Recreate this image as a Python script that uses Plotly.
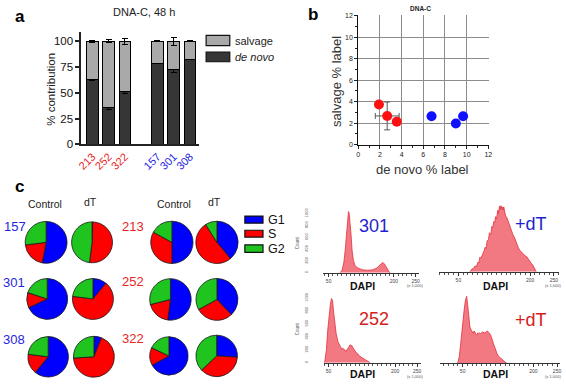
import plotly.graph_objects as go

W, H = 566, 385
FONT = "Liberation Sans, Arial, sans-serif"


def px(x):
    return x / W


def py(y):
    return 1 - y / H


# ---------------- Panel a data ----------------
bar_lines = ["213", "252", "322", "157", "301", "308"]
bar_categories = ["213", "252", "322", " ", "157", "301", "308"]
bar_line_colors = ["#e8261e", "#e8261e", "#e8261e", "#2424e0", "#2424e0", "#2424e0"]
de_novo_pct = [63.1, 35.3, 51.7, 78.9, 72.6, 82.6]
de_novo_err = [1.2, 1.6, 2.5, 0.5, 3.2, 0.5]
salvage_pct = [36.9, 64.7, 48.3, 21.1, 27.4, 17.4]
total_err = [0.7, 1.6, 3.0, 0.5, 3.6, 0.5]
y_ticks_a = [0, 25, 50, 75, 100]

# ---------------- Panel b data ----------------
red_de_novo = [1.91, 2.67, 3.55]
red_salvage = [3.73, 2.67, 2.12]
red_x_err = [0, 1.1, 0]
red_y_err = [0, 1.3, 0]
blue_de_novo = [6.76, 9.0, 9.67]
blue_salvage = [2.64, 1.97, 2.64]
b_ticks = [0, 2, 4, 6, 8, 10, 12]

# ---------------- Panel c data (pies) ----------------
phases = ["G1", "S", "G2"]
phase_colors = ["#0000ff", "#ff0000", "#1fc41f"]
pie_157_control = [53, 20, 27]
pie_157_dT = [0.5, 51.5, 48]
pie_301_control = [68, 12, 20]
pie_301_dT = [11, 66, 23]
pie_308_control = [61, 16, 23]
pie_308_dT = [6, 68, 26]
pie_213_control = [50, 33, 17]
pie_213_dT = [39, 52, 9]
pie_252_control = [52, 19, 29]
pie_252_dT = [38, 29, 33]
pie_322_control = [67, 15, 18]
pie_322_dT = [26, 37, 37]

# ---------------- Histogram data (DAPI x1,000 vs count) ----------------
h301_dapi = [76, 81, 83, 85, 88, 91, 93, 95.6, 97, 99, 101.5, 104, 107, 110.5, 115.7, 122.5, 130,
             139.5, 149, 157, 163, 167, 172, 175, 179, 183, 186.5, 190, 192]
h301_count = [0, 44, 110, 180, 371, 699, 917, 1030, 1010, 890, 644, 371, 207, 126, 87, 66, 49,
              44, 49, 66, 93, 126, 158, 175, 142, 87, 38, 5, 0]

h301dT_dapi = [74, 78, 81, 85, 88, 91, 93, 95, 97, 99, 101, 104, 106, 108, 110, 113, 115, 118, 120, 122,
               124, 126, 128, 130, 132.5, 134, 136, 137.5, 139, 140.5, 142, 143.5, 145, 147, 149, 152,
               154, 157, 159, 161, 164, 167, 170, 172, 175, 178, 181, 183, 186, 189, 192, 194, 197,
               200, 203, 206, 209, 211, 213]
h301dT_count = [0, 40, 50, 90, 85, 150, 140, 225, 210, 260, 275, 330, 380, 360, 475, 500, 600, 580,
                700, 680, 775, 760, 850, 820, 950, 900, 1010, 960, 1020, 975, 1000, 950, 1000, 925,
                860, 825, 780, 725, 690, 625, 575, 535, 470, 425, 380, 335, 320, 300, 270, 250, 240,
                225, 190, 150, 130, 100, 60, 30, 0]

h252_dapi = [41, 45, 48, 51, 54, 56.7, 59, 61, 64, 67, 71, 74, 78, 80, 83, 85, 87, 89, 92, 94, 96,
             98, 101, 103, 105, 107, 110, 113, 117, 120, 125, 129, 134, 139, 144]
h252_count = [0, 200, 500, 750, 900, 990, 950, 800, 600, 450, 325, 275, 230, 210, 220, 200, 195,
              175, 200, 225, 245, 275, 265, 260, 230, 200, 180, 150, 130, 100, 80, 60, 40, 25, 0]

h252dT_dapi = [39.5, 43, 46, 49, 53, 55.6, 58.4, 60.5, 62.6, 65.5, 67, 69, 71, 72.5, 74, 76, 78, 80,
               82, 84, 86, 88.5, 91, 93, 95, 98, 100, 102.3, 104.5, 106.5, 109, 111, 113, 115, 118,
               120, 123, 126, 130, 133, 137, 140, 144]
h252dT_count = [0, 110, 310, 560, 810, 960, 1035, 910, 710, 560, 530, 510, 470, 460, 500, 485, 450,
                435, 470, 460, 470, 460, 480, 485, 470, 470, 490, 500, 480, 470, 440, 410, 360, 310,
                240, 185, 150, 110, 80, 60, 35, 20, 0]

hist_ticks = [50, 200, 250]
hist_count_ticks = [0, 200, 400, 600, 800, 1000]

fig = go.Figure()

# ---------------- Panel a: stacked bars ----------------
fig.add_trace(go.Bar(
    x=bar_lines, y=de_novo_pct, name="de novo", width=0.73,
    marker=dict(color="#363636", line=dict(color="#000000", width=1)),
    error_y=dict(type="data", array=de_novo_err, color="#000000", thickness=1, width=3),
    xaxis="x", yaxis="y", showlegend=False,
))
fig.add_trace(go.Bar(
    x=bar_lines, y=salvage_pct, name="salvage", width=0.73,
    marker=dict(color="#a9a9a9", line=dict(color="#000000", width=1)),
    error_y=dict(type="data", array=total_err, color="#000000", thickness=1, width=3),
    xaxis="x", yaxis="y", showlegend=False,
))

# ---------------- Panel b: scatter ----------------
fig.add_trace(go.Scatter(
    x=red_de_novo, y=red_salvage, mode="markers",
    marker=dict(color="#ff1010", size=10),
    error_x=dict(type="data", array=red_x_err, color="#555555", thickness=1, width=3),
    error_y=dict(type="data", array=red_y_err, color="#555555", thickness=1, width=3),
    xaxis="x2", yaxis="y2", showlegend=False,
))
fig.add_trace(go.Scatter(
    x=blue_de_novo, y=blue_salvage, mode="markers",
    marker=dict(color="#1010ff", size=10),
    xaxis="x2", yaxis="y2", showlegend=False,
))

# ---------------- Panel c: pies ----------------
pies = [
    (pie_157_control, 41.7, 244.7, 21.5),
    (pie_157_dT, 88.3, 244.7, 21.0),
    (pie_301_control, 42.8, 302.8, 21.0),
    (pie_301_dT, 89.2, 302.8, 21.0),
    (pie_308_control, 43.8, 362.2, 20.8),
    (pie_308_dT, 90.2, 362.2, 21.0),
    (pie_213_control, 169.3, 244.7, 21.7),
    (pie_213_dT, 215.0, 244.7, 21.7),
    (pie_252_control, 167.8, 303.3, 21.3),
    (pie_252_dT, 215.0, 303.3, 21.5),
    (pie_322_control, 166.3, 361.3, 19.7),
    (pie_322_dT, 214.7, 361.3, 21.3),
]
for vals, cx, cy, r in pies:
    fig.add_trace(go.Pie(
        labels=phases, values=vals, sort=False, direction="clockwise", rotation=0,
        marker=dict(colors=phase_colors, line=dict(color="#1a1a1a", width=0.8)),
        textinfo="none", hoverinfo="label+percent", showlegend=False,
        domain=dict(x=[px(cx - r), px(cx + r)], y=[py(cy + r), py(cy - r)]),
    ))

# ---------------- Histograms ----------------
hist_fill = "rgba(240,96,108,0.85)"
hist_line = "#e2303c"
hists = [
    (h301_dapi, h301_count, "x3", "y3"),
    (h301dT_dapi, h301dT_count, "x4", "y4"),
    (h252_dapi, h252_count, "x5", "y5"),
    (h252dT_dapi, h252dT_count, "x6", "y6"),
]
for xs, ys, xa, ya in hists:
    fig.add_trace(go.Scatter(
        x=xs, y=ys, mode="lines", fill="tozeroy", fillcolor=hist_fill,
        line=dict(color=hist_line, width=0.8), xaxis=xa, yaxis=ya, showlegend=False,
    ))

layout = dict(
    width=W, height=H,
    margin=dict(l=0, r=0, t=0, b=0),
    paper_bgcolor="white", plot_bgcolor="white",
    barmode="stack", bargap=0.27,
    font=dict(family=FONT, color="#222222"),
    xaxis=dict(
        domain=[px(77.3), px(196.7)], type="category", categoryorder="array",
        categoryarray=bar_categories, range=[-0.69, 6.55], anchor="y",
        showline=True, linecolor="#222222", linewidth=1.6, ticks="",
        tickvals=bar_lines,
        ticktext=[f"<span style='color:{c}'>{t}</span>" for t, c in zip(bar_lines, bar_line_colors)],
        tickangle=-45, tickfont=dict(family=FONT, size=11), fixedrange=True,
    ),
    yaxis=dict(
        domain=[py(144), py(28.3)], range=[0, 109.5], anchor="x",
        tickvals=y_ticks_a, ticks="outside", ticklen=4, tickwidth=1.5, tickcolor="#222222",
        showline=True, linecolor="#222222", linewidth=1.6, showgrid=False, zeroline=False,
        tickfont=dict(family=FONT, size=11.5, color="#111111"),
    ),
    xaxis2=dict(
        domain=[px(358.3), px(358.3 + 12.08 * 11)], range=[0, 12.08], anchor="y2",
        tickvals=b_ticks, ticks="outside", ticklen=3, tickcolor="#222222",
        minor=dict(dtick=1, ticks="outside", ticklen=2, tickcolor="#222222", showgrid=False),
        showline=True, linecolor="#111111", linewidth=1, showgrid=True,
        gridcolor="#8c8c8c", gridwidth=1, zeroline=False,
        tickfont=dict(family=FONT, size=7, color="#222222"),
    ),
    yaxis2=dict(
        domain=[py(144.3), py(144.3 - 12.08 * 11)], range=[0, 12.08], anchor="x2",
        tickvals=b_ticks, ticks="outside", ticklen=3, tickcolor="#222222",
        minor=dict(dtick=1, ticks="outside", ticklen=2, tickcolor="#222222", showgrid=False),
        showline=True, linecolor="#111111", linewidth=1, showgrid=True,
        gridcolor="#8c8c8c", gridwidth=1, zeroline=False,
        tickfont=dict(family=FONT, size=7, color="#222222"),
    ),
)

hist_axes = [
    ("xaxis3", "yaxis3", "y3", "x3", 323, 420, 210, 276, [38, 258], [0, 1082], True),
    ("xaxis4", "yaxis4", "y4", "x4", 440, 561.7, 205, 275, [9, 260], [0, 1050], False),
    ("xaxis5", "yaxis5", "y5", "x5", 323.3, 421.7, 300, 368.3, [39, 258], [0, 1025], True),
    ("xaxis6", "yaxis6", "y6", "x6", 441.7, 563.3, 298, 369, [3, 257], [0, 1065], False),
]
for xk, yk, yn, xn, x0, x1, y0, y1, xr, yr, showy in hist_axes:
    layout[xk] = dict(
        domain=[px(x0), px(x1)], range=xr, anchor=yn,
        showline=True, linecolor="#333333", linewidth=0.8,
        tickvals=hist_ticks, ticks="outside", ticklen=3, tickcolor="#333333", tickwidth=0.8,
        minor=dict(dtick=10, ticks="outside", ticklen=2, tickcolor="#555555", tickwidth=0.6),
        showgrid=False, zeroline=False,
        tickfont=dict(family=FONT, size=5, color="#444444"),
    )
    layout[yk] = dict(
        domain=[py(y1), py(y0)], range=yr, anchor=xn,
        showline=False, showgrid=False, zeroline=False,
        tickvals=hist_count_ticks, ticks="", showticklabels=showy,
        tickangle=-90, ticklabelstandoff=14,
        tickfont=dict(family=FONT, size=4, color="#555555"),
    )

fig.update_layout(**layout)

ann = []


def text(x, y, t, size, color="#222222", bold=False, italic=False, angle=0, xanchor="center"):
    s = t
    if bold:
        s = f"<b>{s}</b>"
    if italic:
        s = f"<i>{s}</i>"
    ann.append(dict(x=px(x), y=py(y), xref="paper", yref="paper", text=s, showarrow=False,
                    font=dict(family=FONT, size=size, color=color), textangle=angle,
                    xanchor=xanchor, yanchor="middle"))


# panel labels
text(15, 12.5, "a", 17, "#000000", bold=True)
text(312, 11, "b", 17, "#000000", bold=True)
text(15, 187.5, "c", 17, "#000000", bold=True)

# panel a texts
text(141, 8.5, "DNA-C, 48 h", 11)
text(46.7, 88, "% contribution", 11.5, angle=-90)
text(231, 37.5, "salvage", 11, xanchor="left")
text(231, 54.3, "de novo", 11, italic=True, xanchor="left")

# panel b texts
text(421.7, 4.5, "DNA-C", 6.5, bold=True)
text(336.7, 79, "salvage % label", 13, color="#333333", angle=-90)
text(423, 170, "de novo % label", 13, color="#333333")

# panel c headers and line labels
text(41, 205, "Control", 10.5)
text(87, 203.5, "dT", 10.5)
text(171, 205, "Control", 10.5)
text(212, 203.5, "dT", 10.5)
blue_txt = "#2424e0"
red_txt = "#e8261e"
text(10, 228, "157", 13, blue_txt)
text(9.5, 286, "301", 13, blue_txt)
text(9.5, 344.5, "308", 13, blue_txt)
text(129.5, 228, "213", 13, red_txt)
text(129.5, 285, "252", 13, red_txt)
text(129.5, 343, "322", 13, red_txt)

# pie legend texts
text(265, 221.3, "G1", 12.5, "#111111", xanchor="left")
text(265, 236, "S", 12.5, "#111111", xanchor="left")
text(265, 251.2, "G2", 12.5, "#111111", xanchor="left")

# histogram texts
text(374.5, 228, "301", 18, "#1f1fd0")
text(534, 226, "+dT", 18, "#1f1fd0")
text(374.5, 323, "252", 18, "#d42020")
text(534, 324, "+dT", 18, "#d42020")
for xx, yy in [(363, 289.5), (497.5, 289.5), (363, 380), (497.5, 380)]:
    text(xx, yy, "DAPI", 10.5, "#111111", bold=True)
for xx, yy in [(416, 288.5), (555.5, 288.5), (416, 382), (555.5, 382)]:
    text(xx, yy, "(x 1,000)", 4, "#555555")
text(296.7, 245, "Count", 4.5, "#555555", angle=-90)
text(297, 333, "Count", 4.5, "#555555", angle=-90)

fig.update_layout(annotations=ann)

# legend swatches (paper-coordinate boxes)
shapes = []


def box(x0, y0, x1, y1, fill):
    shapes.append(dict(type="rect", xref="paper", yref="paper",
                       x0=px(x0), x1=px(x1), y0=py(y1), y1=py(y0),
                       fillcolor=fill, line=dict(color="#111111", width=1.2)))


box(204, 32.3, 228, 42.7, "#a9a9a9")
box(204, 49.3, 228, 59.3, "#363636")
box(243.3, 217.7, 261.7, 225, phase_colors[0])
box(243.3, 232.3, 261.7, 239.3, phase_colors[1])
box(243.3, 247.3, 261.7, 255, phase_colors[2])
fig.update_layout(shapes=shapes)

fig.write_html(
    "out.html",
    config={"displayModeBar": False},
    post_script="document.documentElement.style.margin='0';document.body.style.margin='0';"
                "document.body.style.padding='0';document.body.style.overflow='hidden';",
)
